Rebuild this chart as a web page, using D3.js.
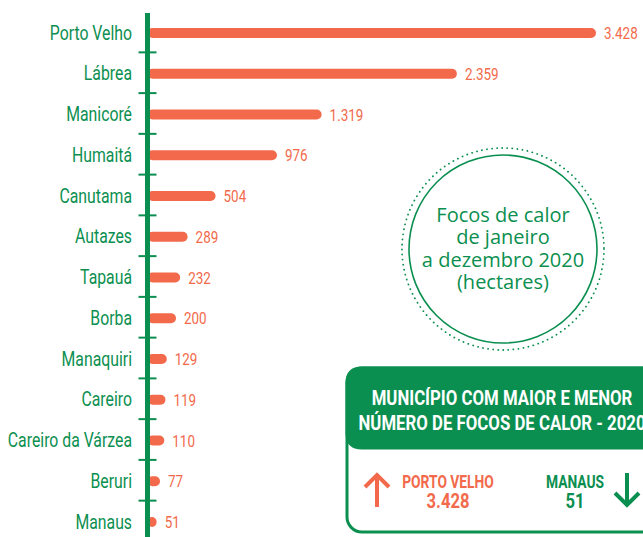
<!DOCTYPE html>
<html>
<head>
<meta charset="UTF-8"/>
<script src="https://cdn.jsdelivr.net/npm/d3@7"></script>
<style>
  body { margin: 0; background: #fff; }
  .cat { font-family: Roboto, sans-serif; font-size: 20px; fill: #0b8f50; }
  .val { font-family: Roboto, sans-serif; font-size: 17px; fill: #f26a4b; }
  .circ { font-family: "Open Sans", sans-serif; font-size: 20px; fill: #0b8f50; }
  .hdr { font-family: Roboto, sans-serif; font-size: 20px; font-weight: bold; fill: #fff; }
  .big { font-family: Roboto, sans-serif; font-weight: bold; }
</style>
</head>
<body>
<svg id="fig" width="643" height="537"></svg>
<script>
const municipios = ["Porto Velho", "Lábrea", "Manicoré", "Humaitá", "Canutama", "Autazes", "Tapauá",
                    "Borba", "Manaquiri", "Careiro", "Careiro da Várzea", "Beruri", "Manaus"]
const focos = [3428, 2359, 1319, 976, 504, 289, 232, 200, 129, 119, 110, 77, 51]
const circleLines = ["Focos de calor", "de janeiro", "a dezembro 2020", "(hectares)"]
const boxTitle = ["MUNICÍPIO COM MAIOR E MENOR", "NÚMERO DE FOCOS DE CALOR - 2020"]

const orange = "#f26a4b", green = "#0b8f50"
const pt = d3.formatLocale({decimal: ",", thousands: ".", grouping: [3], currency: ["R$", ""]})
const fmt = pt.format(",d")
const narrow = 0.79   // no condensed font installed, so squeeze horizontally

const svg = d3.select("#fig")
const data = municipios.map((m, i) => ({name: m, v: focos[i]}))

// scales
const y = d3.scaleBand().domain(municipios).range([12.6, 542.4])
const x = d3.scaleLinear().domain([0, d3.max(focos)]).range([150, 596])
const axisX = 147.5
const mid = d => y(d.name) + y.bandwidth()/2

// bars (left end tucked under the axis line)
svg.append("g").selectAll("rect")
  .data(data)
  .join("rect")
  .attr("x", axisX)
  .attr("y", d => mid(d) - 5)
  .attr("width", d => x(d.v) - axisX)
  .attr("height", 10)
  .attr("rx", 5)
  .attr("fill", orange)

svg.append("g").selectAll("text")
  .data(data)
  .join("text")
  .attr("class", "val")
  .attr("transform", d => `translate(${x(d.v) + 8},${mid(d)}) scale(${narrow},1)`)
  .attr("dy", "0.36em")
  .text(d => fmt(d.v))

// category labels
svg.append("g").selectAll("text")
  .data(data)
  .join("text")
  .attr("class", "cat")
  .attr("transform", d => `translate(132,${mid(d)}) scale(${narrow},1)`)
  .attr("dy", "0.33em")
  .attr("text-anchor", "end")
  .text(d => d.name)

// axis line + ticks between categories
svg.append("line")
  .attr("x1", axisX).attr("x2", axisX)
  .attr("y1", 13).attr("y2", 537)
  .attr("stroke", green).attr("stroke-width", 5)

svg.append("g").selectAll("line")
  .data(municipios.slice(1))
  .join("line")
  .attr("x1", axisX - 9).attr("x2", axisX + 9)
  .attr("y1", d => y(d) - 1).attr("y2", d => y(d) - 1)
  .attr("stroke", green).attr("stroke-width", 2)

// circle note
const cx = 503, cy = 249
svg.append("circle").attr("cx", cx).attr("cy", cy).attr("r", 94)
  .attr("fill", "none").attr("stroke", green).attr("stroke-width", 1.6)
svg.append("circle").attr("cx", cx).attr("cy", cy).attr("r", 101)
  .attr("fill", "none").attr("stroke", green).attr("stroke-width", 1.8)
  .attr("stroke-dasharray", "0.1 5").attr("stroke-linecap", "round")

svg.append("g").selectAll("text")
  .data(circleLines)
  .join("text")
  .attr("class", "circ")
  .attr("x", cx)
  .attr("y", (d, i) => 222 + i * 22.3)
  .attr("text-anchor", "middle")
  .text(d => d)

// summary box
const bx = 347, by = 368, bw = 320, bh = 164, r = 15
svg.append("rect")
  .attr("x", bx).attr("y", by).attr("width", bw).attr("height", bh)
  .attr("rx", r).attr("fill", "#fff").attr("stroke", green).attr("stroke-width", 3)

const hb = 448
svg.append("path")
  .attr("d", `M${bx},${by + r} Q${bx},${by} ${bx + r},${by} L${bx + bw},${by} L${bx + bw},${hb}
              L${bx + r},${hb} Q${bx},${hb} ${bx},${hb - r} Z`)
  .attr("fill", green).attr("stroke", green).attr("stroke-width", 3)

svg.append("g").selectAll("text")
  .data(boxTitle)
  .join("text")
  .attr("class", "hdr")
  .attr("transform", (d, i) => `translate(502,${405 + i * 25}) scale(0.84,1)`)
  .attr("text-anchor", "middle")
  .text(d => d)

const maxI = focos.indexOf(d3.max(focos)), minI = focos.indexOf(d3.min(focos))
const summary = [
  {name: municipios[maxI], v: focos[maxI], cx: 448, color: orange},
  {name: municipios[minI], v: focos[minI], cx: 575, color: green}
]
const sg = svg.append("g").selectAll("g").data(summary).join("g")
sg.append("text")
  .attr("class", "big").attr("font-size", 17.5)
  .attr("transform", d => `translate(${d.cx},488) scale(${narrow},1)`)
  .attr("text-anchor", "middle").attr("fill", d => d.color)
  .text(d => d.name.toUpperCase())
sg.append("text")
  .attr("class", "big").attr("font-size", 21)
  .attr("transform", d => `translate(${d.cx},508) scale(${narrow},1)`)
  .attr("text-anchor", "middle").attr("fill", d => d.color)
  .text(d => fmt(d.v))

// arrows
svg.append("path")
  .attr("d", "M377,507 L377,475 M365,487 L377,475 L389,487")
  .attr("fill", "none").attr("stroke", orange).attr("stroke-width", 4)
svg.append("path")
  .attr("d", "M627,473 L627,505 M615,493 L627,505 L639,493")
  .attr("fill", "none").attr("stroke", green).attr("stroke-width", 4)
</script>
</body>
</html>
